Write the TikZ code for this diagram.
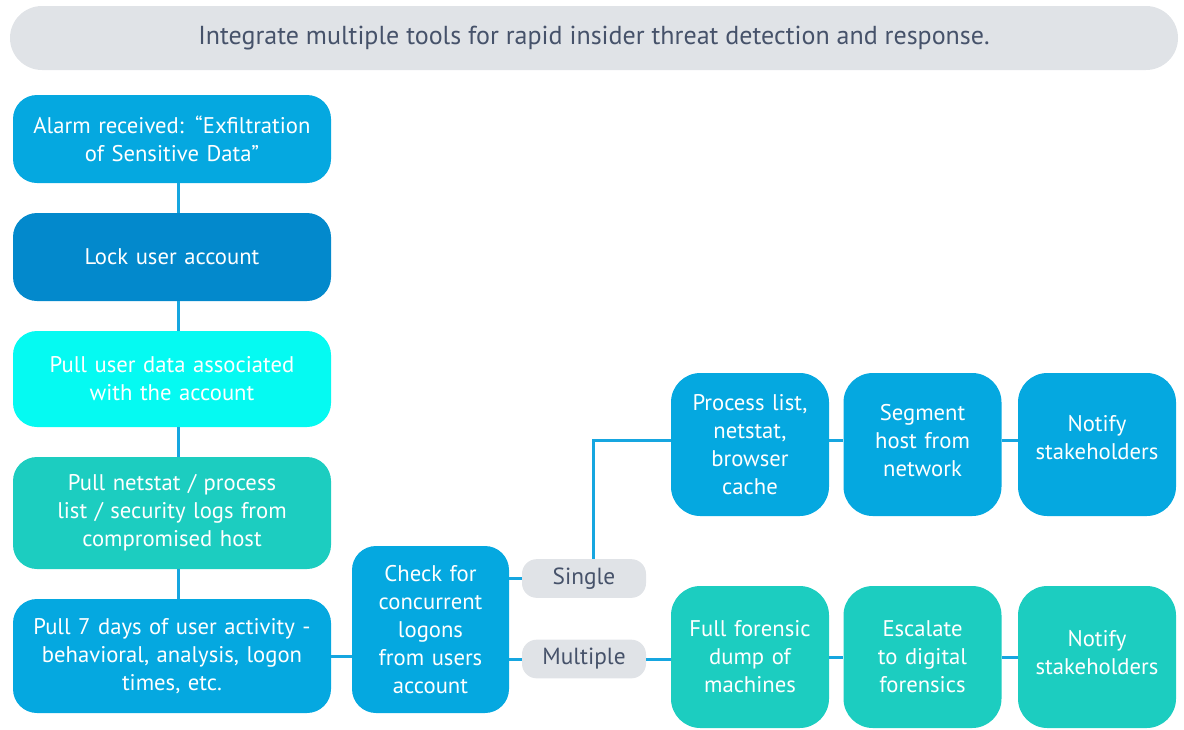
\documentclass[tikz,border=0pt]{standalone}
\usepackage{fontspec}
\setmainfont{PT Sans}
\definecolor{skyblue}{HTML}{05A8E0}
\definecolor{deepblue}{HTML}{0389CC}
\definecolor{aqua}{HTML}{05FAF2}
\definecolor{teal}{HTML}{1CCDC0}
\definecolor{paleGray}{HTML}{E0E3E7}
\definecolor{slate}{HTML}{46526A}
\definecolor{wire}{HTML}{16A6E0}
\begin{document}
\begin{tikzpicture}
        [x=0.75pt, y=-0.75pt,
        box/.style={rounded corners=18pt, text=white, align=center,
            font=\fontsize{17}{21}\selectfont, inner sep=0pt},
        leftbox/.style={box, minimum width=238.5pt, text width=230pt},
        stepbox/.style={box, rounded corners=22pt, minimum width=118.5pt,
            text width=114pt},
        tag/.style={rounded corners=11pt, fill=paleGray, text=slate,
            minimum width=93pt, minimum height=29pt,
            font=\fontsize{17.5}{21}\selectfont},
        link/.style={draw=wire, line width=2.25pt}]
        \useasboundingbox (0,0) rectangle (1184,729);
        % banner across the top
        \node[tag, rounded corners=24pt, minimum width=876pt,
            minimum height=48pt, font=\fontsize{19.5}{23}\selectfont] (title) at (594,38)
            {Integrate multiple tools for rapid insider threat detection and response.};
        % left column
        \node[leftbox, fill=skyblue, minimum height=66pt] (alarm) at (172,139)
            {Alarm received: ``Exfiltration\\of Sensitive Data''};
        \node[leftbox, fill=deepblue, minimum height=66pt] (lock) at (172,257)
            {Lock user account};
        \node[leftbox, fill=aqua, minimum height=72pt] (userdata) at (172,379)
            {Pull user data associated\\with the account};
        \node[leftbox, fill=teal, minimum height=84pt] (netstat) at (172,513)
            {Pull netstat / process\\list / security logs from\\compromised host};
        \node[leftbox, fill=skyblue, minimum height=85.5pt] (activity) at (172,656)
            {Pull 7 days of user activity -\\behavioral, analysis, logon\\times, etc.};
        \node[box, fill=skyblue, minimum width=117.75pt, text width=114pt,
            minimum height=125.25pt] (check) at (430.5,629.5)
            {Check for\\concurrent\\logons\\from users\\account};
        % decision labels
        \node[tag] (single) at (584,578.5) {Single};
        \node[tag] (multiple) at (584,659) {Multiple};
        % single logon branch
        \node[stepbox, fill=skyblue, minimum height=107.25pt] (proc) at (750,444.5)
            {Process list,\\netstat,\\browser\\cache};
        \node[stepbox, fill=skyblue, minimum height=107.25pt] (segment) at (922.5,444.5)
            {Segment\\host from\\network\vspace{6pt}};
        \node[stepbox, fill=skyblue, minimum height=107.25pt] (notifya) at (1097,444.5)
            {Notify\\stakeholders\vspace{10pt}};
        % multiple logon branch
        \node[stepbox, fill=teal, minimum height=106.5pt] (dump) at (750,657)
            {Full forensic\\dump of\\machines};
        \node[stepbox, fill=teal, minimum height=106.5pt] (escalate) at (922.5,657)
            {Escalate\\to digital\\forensics};
        \node[stepbox, fill=teal, minimum height=106.5pt] (notifyb) at (1097,657)
            {Notify\\stakeholders\vspace{6pt}};
        % connectors
        \draw[link] ([xshift=4.5pt]alarm.south) -- ([xshift=4.5pt]lock.north);
        \draw[link] ([xshift=4.5pt]lock.south) -- ([xshift=4.5pt]userdata.north);
        \draw[link] ([xshift=4.5pt]userdata.south) -- ([xshift=4.5pt]netstat.north);
        \draw[link] ([xshift=4.5pt]netstat.south) -- ([xshift=4.5pt]activity.north);
        \draw[link] (activity.east) -- (activity.east -| check.west);
        \draw[link] (single.west -| check.east) -- (single.west);
        \draw[link] (multiple.west -| check.east) -- (multiple.west);
        \draw[link] ([xshift=7pt]single.north) |- ([yshift=3pt]proc.west);
        \draw[link] ([yshift=3pt]proc.east) -- ([yshift=3pt]segment.west);
        \draw[link] ([yshift=3pt]segment.east) -- ([yshift=3pt]notifya.west);
        \draw[link] (multiple.east) -- (multiple.east -| dump.west);
        \draw[link] (dump.east) -- (escalate.west);
        \draw[link] (escalate.east) -- (notifyb.west);
\end{tikzpicture}
\end{document}
